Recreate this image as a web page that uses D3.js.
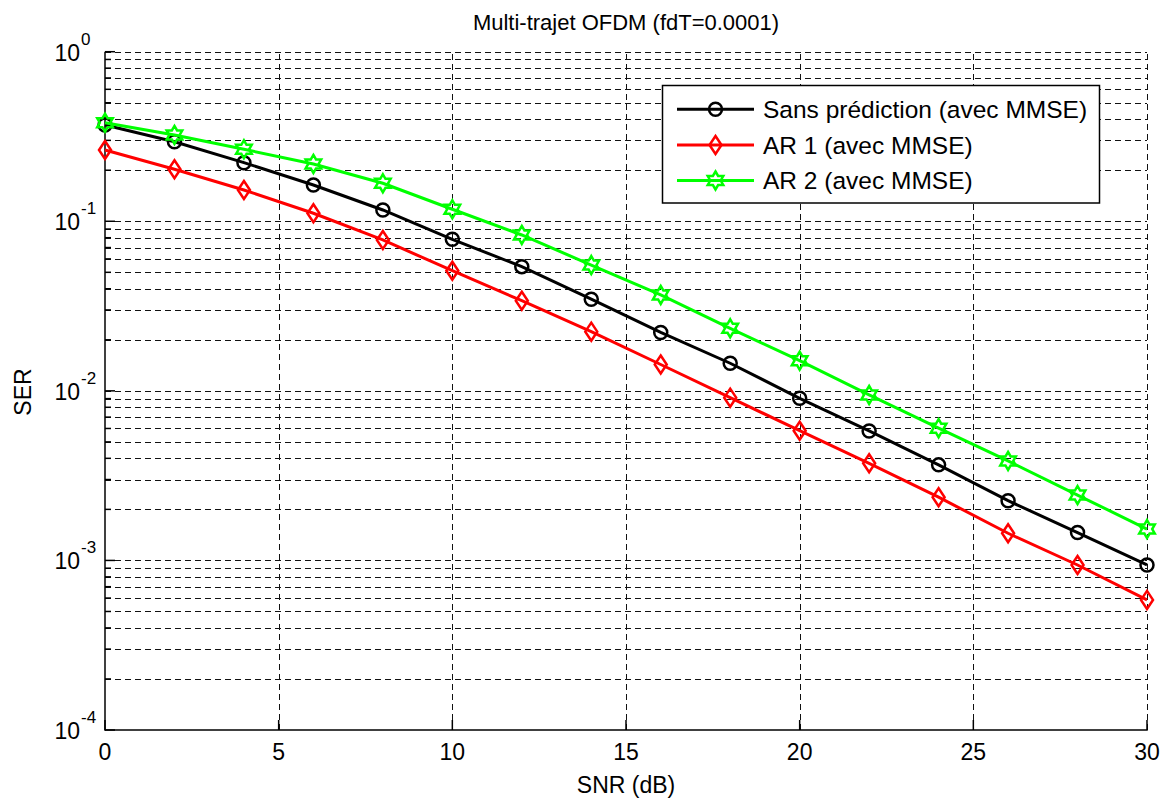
<!DOCTYPE html>
<html>
<head>
<meta charset="utf-8">
<script src="https://cdn.jsdelivr.net/npm/d3@7"></script>
<style>
html,body{margin:0;padding:0;background:#fff;}
text{font-family:"Liberation Sans",Arial,sans-serif;fill:#000;}
</style>
</head>
<body>
<svg id="chart" width="1165" height="801"></svg>
<script>
const snr = [0,2,4,6,8,10,12,14,16,18,20,22,24,26,28,30];
const serSans = [0.370,0.2945,0.2216,0.1637,0.1166,0.0783,0.0540,0.0347,0.0221,0.01455,0.00904,0.0058,0.00366,0.00225,0.00146,0.00094];
const serAR1  = [0.2633,0.2025,0.153,0.1115,0.0776,0.0511,0.0340,0.02234,0.0143,0.00912,0.00582,0.00374,0.00236,0.001446,0.00094,0.000585];
const serAR2  = [0.3814,0.3228,0.2658,0.2177,0.1675,0.1177,0.0830,0.0552,0.0368,0.02338,0.01507,0.00946,0.00602,0.00386,0.00243,0.00153];
const seriesNames = ["Sans prédiction (avec MMSE)","AR 1 (avec MMSE)","AR 2 (avec MMSE)"];
const xTicks = [0,5,10,15,20,25,30];
const yExponents = [0,-1,-2,-3,-4];
const titleText = "Multi-trajet OFDM (fdT=0.0001)";
const xLabel = "SNR (dB)";
const yLabel = "SER";

const svg = d3.select("#chart");
const L = 105, R = 1147, T = 51.7, B = 730;
const x = d3.scaleLinear().domain([0,30]).range([L,R]);
const y = d3.scaleLog().domain([1e-4,1]).range([B,T]);
const px = v => Math.round(v) + 0.5;

// grid
const dash = "6,4";
const gridG = svg.append("g").attr("shape-rendering","crispEdges");
const yGridVals = [];
for (let e = -4; e < 0; e++) for (let m = 1; m <= 9; m++) yGridVals.push(m*Math.pow(10,e));
yGridVals.push(1);
gridG.selectAll("line.hg").data(yGridVals.filter(v=>v>1e-4)).enter().append("line")
  .attr("x1",L).attr("x2",R).attr("y1",d=>px(y(d))).attr("y2",d=>px(y(d)))
  .attr("stroke","#111").attr("stroke-width",1).attr("stroke-dasharray",dash);
gridG.selectAll("line.vg").data(xTicks.filter(v=>v>0)).enter().append("line")
  .attr("x1",d=>px(x(d))).attr("x2",d=>px(x(d))).attr("y1",B).attr("y2",T)
  .attr("stroke","#111").attr("stroke-width",1).attr("stroke-dasharray",dash);

// axes lines and ticks
const ax = svg.append("g");
ax.append("line").attr("x1",L).attr("x2",L).attr("y1",B+0.75).attr("y2",T).attr("stroke","#000").attr("stroke-width",1.5);
ax.append("line").attr("x1",L).attr("x2",R+0.75).attr("y1",B).attr("y2",B).attr("stroke","#000").attr("stroke-width",1.5);
ax.selectAll("line.xt").data(xTicks).enter().append("line")
  .attr("x1",d=>x(d)).attr("x2",d=>x(d)).attr("y1",B).attr("y2",B-10)
  .attr("stroke","#000").attr("stroke-width",1.5);
ax.selectAll("line.yt").data(yGridVals).enter().append("line")
  .attr("x1",L).attr("x2",d=>{const l=Math.log10(d); return L + (Math.abs(l-Math.round(l))<1e-9?10:6);})
  .attr("y1",d=>y(d)).attr("y2",d=>y(d))
  .attr("stroke","#000").attr("stroke-width",1.5);

// x tick labels
ax.selectAll("text.xl").data(xTicks).enter().append("text")
  .attr("x",d=>x(d)).attr("y",760).attr("text-anchor","middle")
  .attr("font-size",23).text(d=>d);

// y tick labels
const yl = ax.selectAll("g.yl").data(yExponents).enter().append("g");
yl.append("text").attr("x",80).attr("y",d=>y(Math.pow(10,d))+9).attr("text-anchor","end")
  .attr("font-size",23).text("10");
yl.append("text").attr("x",81).attr("y",d=>y(Math.pow(10,d))-7)
  .attr("font-size",17).text(d=>d);

// labels
svg.append("text").attr("x",626).attr("y",30).attr("text-anchor","middle").attr("font-size",22).text(titleText);
svg.append("text").attr("x",626).attr("y",793).attr("text-anchor","middle").attr("font-size",23).text(xLabel);
svg.append("text").attr("transform","translate(31,392) rotate(-90)").attr("text-anchor","middle").attr("font-size",23).text(yLabel);

// markers
function hexagram(r){
  const ri = r/Math.sqrt(3); const pts=[];
  for(let i=0;i<12;i++){const a=-Math.PI/2+i*Math.PI/6; const rr=i%2?ri:r; pts.push([rr*Math.cos(a),rr*Math.sin(a)]);}
  return "M"+pts.map(p=>p[0].toFixed(2)+","+p[1].toFixed(2)).join("L")+"Z";
}
const markerDefs = [
  {color:"#000", path: (g)=>g.append("circle").attr("r",6.5)},
  {color:"#ff0000", path: (g)=>g.append("path").attr("d","M0,-9L6,0L0,9L-6,0Z")},
  {color:"#00ff00", path: (g)=>g.append("path").attr("d",hexagram(9))}
];
const allSeries = [serSans, serAR1, serAR2];
const line = d3.line().x(d=>x(d[0])).y(d=>y(d[1]));
const plotG = svg.append("g");
allSeries.forEach((vals,i)=>{
  const data = snr.map((s,j)=>[s,vals[j]]);
  const md = markerDefs[i];
  plotG.append("path").datum(data).attr("d",line).attr("fill","none")
    .attr("stroke",md.color).attr("stroke-width",3);
  data.forEach(d=>{
    const g = plotG.append("g").attr("transform",`translate(${x(d[0])},${y(d[1])})`);
    md.path(g).attr("fill","none").attr("stroke",md.color).attr("stroke-width",2.5);
  });
});

// legend
const lg = svg.append("g");
lg.append("rect").attr("x",662.5).attr("y",85.5).attr("width",437).attr("height",117.5)
  .attr("fill","#fff").attr("stroke","#000").attr("stroke-width",1.5);
const ly = [109.3,145,180.5];
seriesNames.forEach((n,i)=>{
  const md = markerDefs[i];
  lg.append("line").attr("x1",677).attr("x2",754).attr("y1",ly[i]).attr("y2",ly[i])
    .attr("stroke",md.color).attr("stroke-width",3);
  const g = lg.append("g").attr("transform",`translate(715.5,${ly[i]})`);
  md.path(g).attr("fill","none").attr("stroke",md.color).attr("stroke-width",2.5);
  lg.append("text").attr("x",763).attr("y",ly[i]+8.5).attr("font-size",24.5).text(n);
});
</script>
</body>
</html>
